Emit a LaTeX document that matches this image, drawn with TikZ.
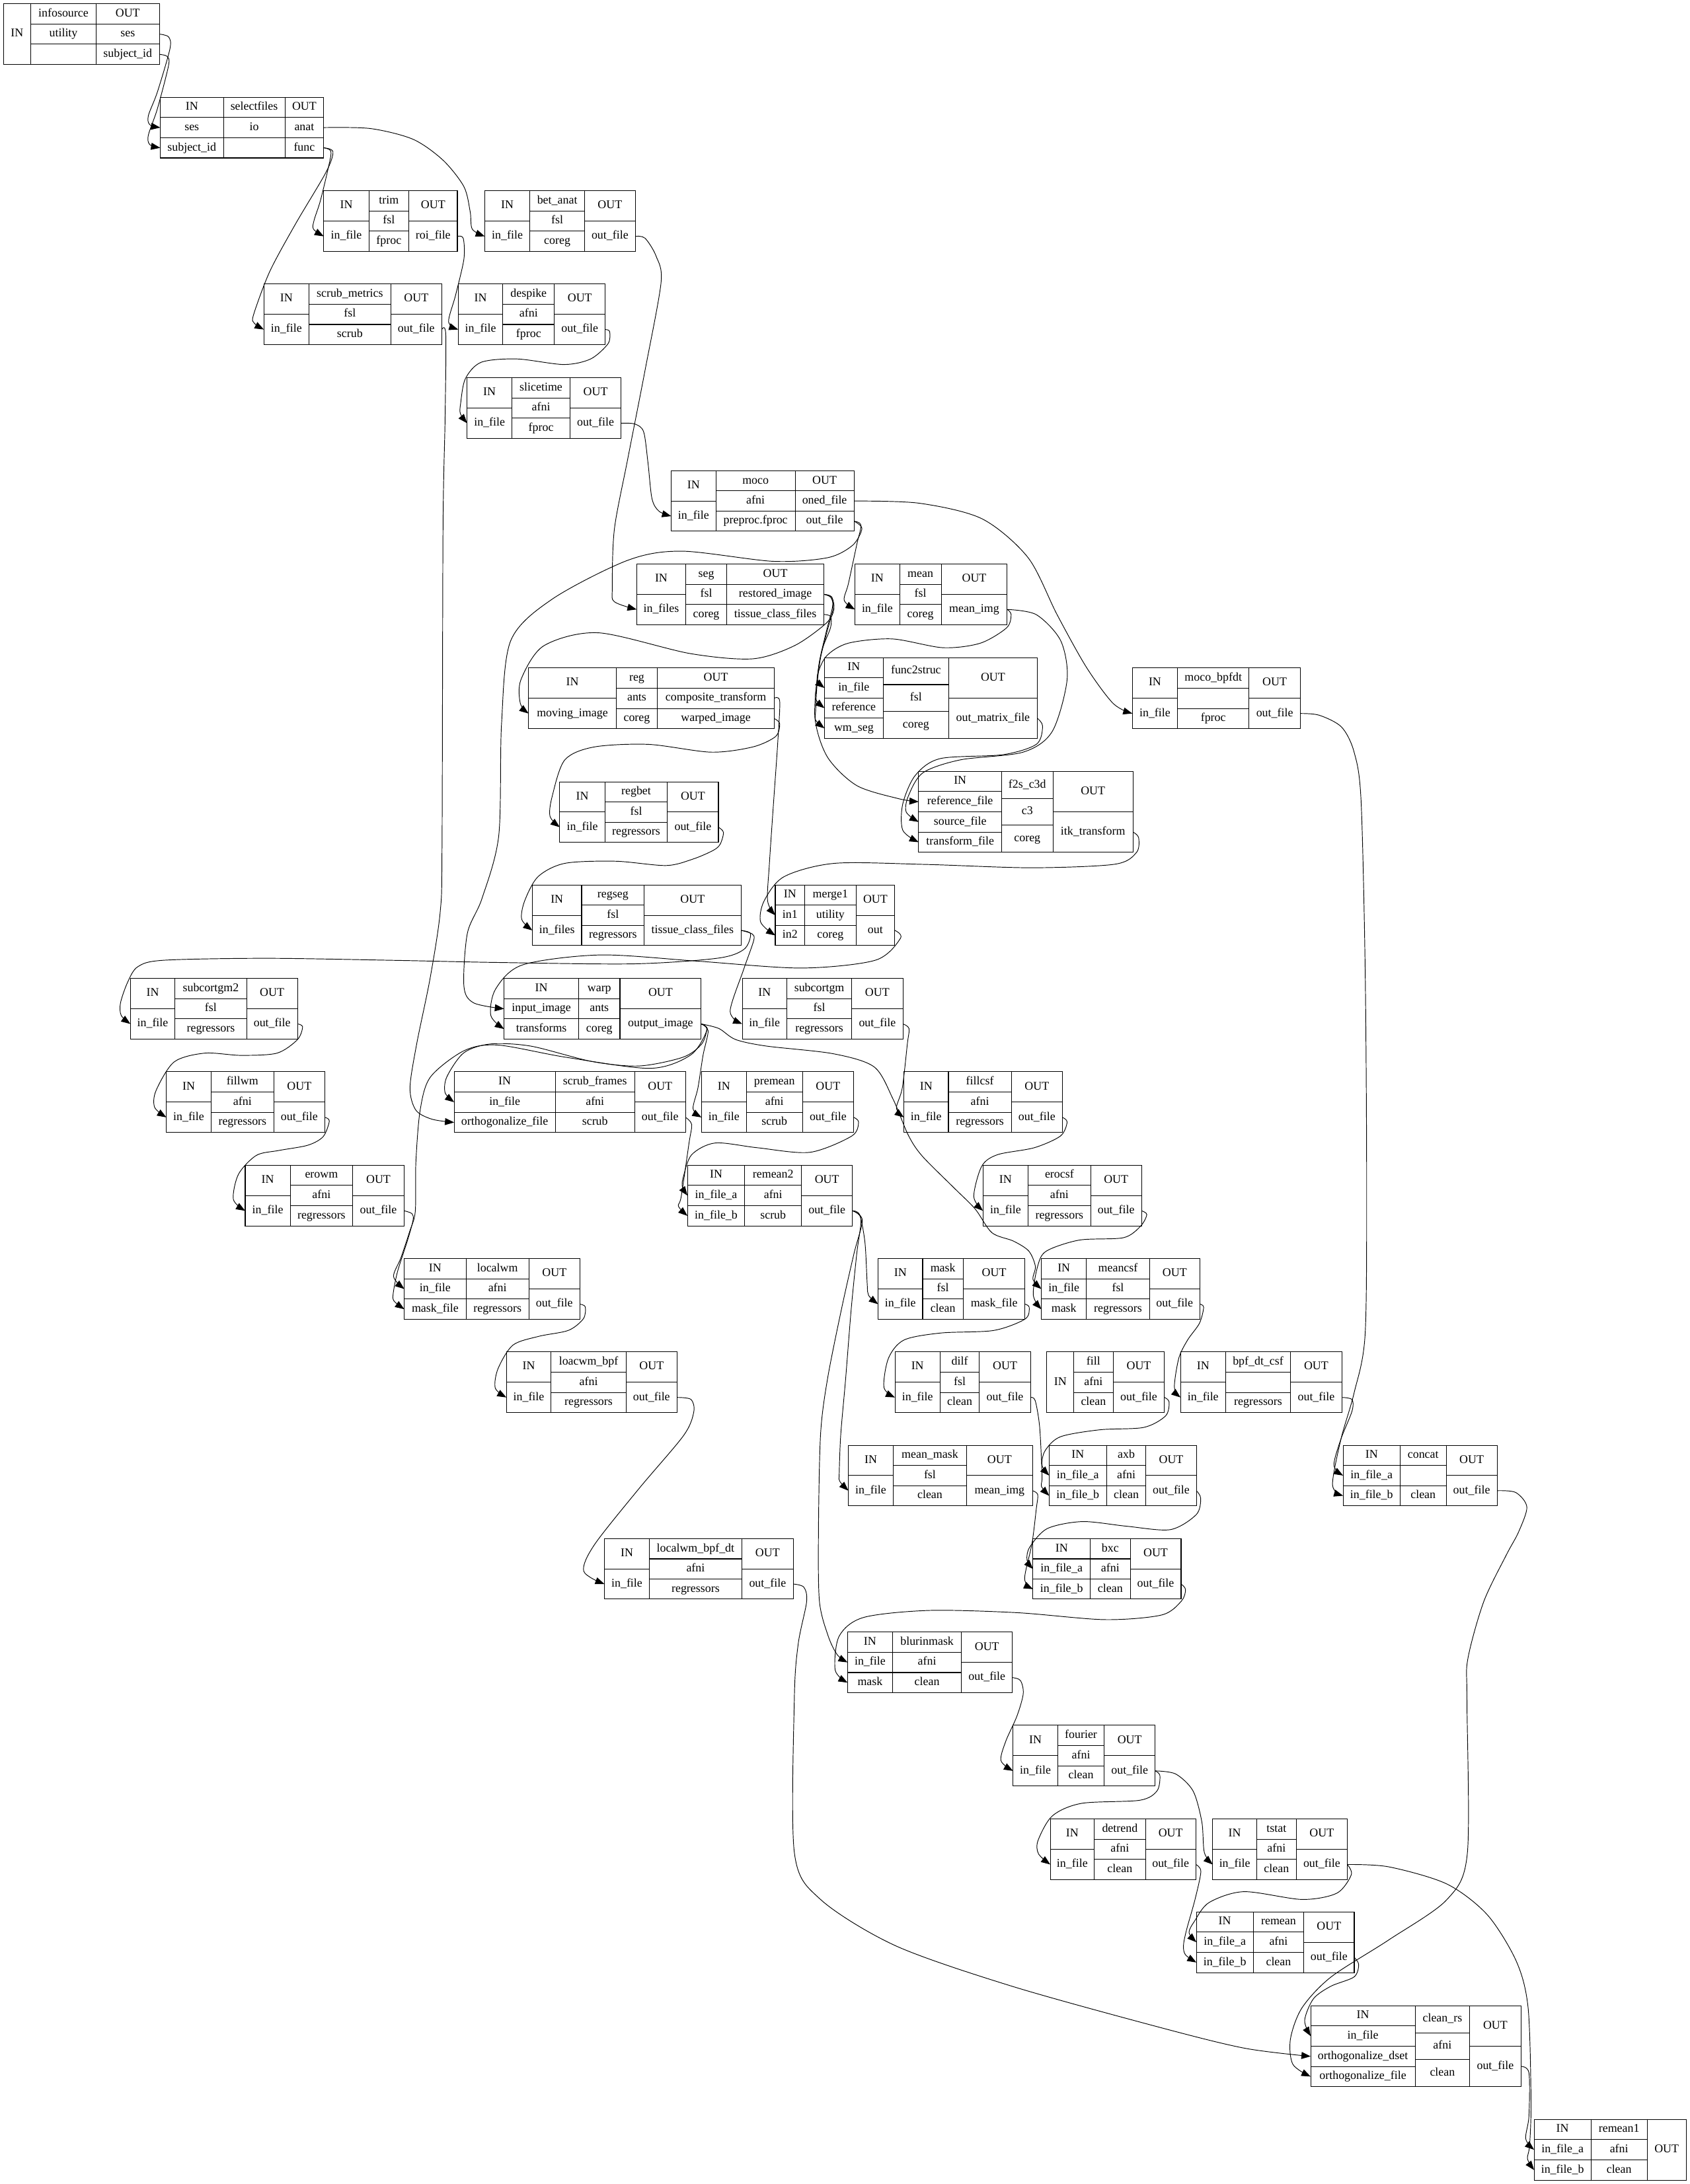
\documentclass[tikz,border=0pt]{standalone}
\usepackage{fontspec}
\setmainfont{Liberation Serif}
\usetikzlibrary{arrows.meta}
\tikzset{
  cell/.style={draw, line width=0.5pt, inner sep=0pt, outer sep=0pt,
    font=\fontsize{8.5}{10}\selectfont, text height=6.0pt, text depth=1.9pt, align=center},
  edge/.style={line width=0.45pt, -{Triangle[length=6.6pt,width=5pt]}},
}
\makeatletter
\newcommand\recnode[6]{%
  \rec@getx#2\relax
  \rec@gety#3\relax
  \def\rec@nm{#1}%
  \rec@col{#4}{\rxa}{\rxb}{0}%
  \rec@col{#5}{\rxb}{\rxc}{1}%
  \rec@col{#6}{\rxc}{\rxd}{0}%
  \pgfmathsetmacro\rec@cx{(\rxa+\rxd)/2}%
  \pgfmathsetmacro\rec@cy{(\rya+\ryb)/2}%
  \pgfmathsetmacro\rec@W{\rxd-\rxa}%
  \pgfmathsetmacro\rec@H{\ryb-\rya}%
  \node[inner sep=0pt, outer sep=0pt, minimum width=\rec@W pt, minimum height=\rec@H pt] (#1) at (\rec@cx,\rec@cy) {};%
}
\def\rec@getx#1,#2,#3,#4\relax{\def\rxa{#1}\def\rxb{#2}\def\rxc{#3}\def\rxd{#4}}
\def\rec@gety#1,#2\relax{\def\rya{#1}\def\ryb{#2}}
\def\rec@col#1#2#3#4{%
  \foreach \cellt [count=\celli] in {#1} {\xdef\rec@n{\celli}}%
  \pgfmathsetmacro\rec@h{(\ryb-\rya)/\rec@n}%
  \pgfmathsetmacro\rec@w{#3-#2}%
  \foreach \cellt [count=\celli] in {#1} {%
    \pgfmathsetmacro\rec@top{\rya+(\celli-1)*\rec@h}%
    \ifnum#4=1 \edef\rec@id{m\celli}\else \edef\rec@id{\cellt}\fi
    \node[cell, minimum width=\rec@w pt, minimum height=\rec@h pt, anchor=north west]
      (\rec@nm-\rec@id) at (#2,\rec@top) {\cellt};%
  }%
}
\makeatother
\catcode`\_=12
\begin{document}
\begin{tikzpicture}[x=1pt,y=-1pt]
\path[use as bounding box, fill=white] (0,0) rectangle (1213,1568);

\recnode{infosource}{2.4,22.1,69.0,114.4}{2.7,46.3}{IN}{infosource,utility,{}}{OUT,ses,subject_id}
\recnode{selectfiles}{115.0,160.4,204.5,232.4}{69.8,113.4}{IN,ses,subject_id}{selectfiles,io,{}}{OUT,anat,func}
\recnode{trim}{232.4,264.8,293.5,328.3}{136.9,180.6}{IN,in_file}{trim,fsl,fproc}{OUT,roi_file}
\recnode{bet_anat}{348.0,380.3,419.7,456.0}{136.9,180.6}{IN,in_file}{bet_anat,fsl,coreg}{OUT,out_file}
\recnode{scrub_metrics}{189.4,221.8,280.5,317.1}{203.8,247.5}{IN,in_file}{scrub_metrics,fsl,scrub}{OUT,out_file}
\recnode{despike}{328.9,361.0,397.9,434.5}{203.8,247.5}{IN,in_file}{despike,afni,fproc}{OUT,out_file}
\recnode{slicetime}{335.3,367.5,409.2,445.8}{271.2,314.7}{IN,in_file}{slicetime,afni,fproc}{OUT,out_file}
\recnode{moco}{481.8,513.9,570.8,613.0}{338.0,381.4}{IN,in_file}{moco,afni,preproc.fproc}{OUT,oned_file,out_file}
\recnode{seg}{457.0,492.3,521.6,591.5}{405.0,448.4}{IN,in_files}{seg,fsl,coreg}{OUT,restored_image,tissue_class_files}
\recnode{mean}{613.7,645.8,675.6,723.0}{405.0,448.4}{IN,in_file}{mean,fsl,coreg}{OUT,mean_img}
\recnode{func2struc}{591.8,634.0,681.0,744.6}{472.2,530.1}{IN,in_file,reference,wm_seg}{func2struc,fsl,coreg}{OUT,out_matrix_file}
\recnode{reg}{379.4,442.3,471.9,555.8}{479.4,523.2}{IN,moving_image}{reg,ants,coreg}{OUT,composite_transform,warped_image}
\recnode{moco_bpfdt}{812.8,845.3,896.5,933.5}{479.4,523.2}{IN,in_file}{moco_bpfdt,{},fproc}{OUT,out_file}
\recnode{f2s_c3d}{659.4,719.0,755.8,813.3}{553.8,611.9}{IN,reference_file,source_file,transform_file}{f2s_c3d,c3,coreg}{OUT,itk_transform}
\recnode{regbet}{401.8,434.2,479.1,515.7}{561.3,604.7}{IN,in_file}{regbet,fsl,regressors}{OUT,out_file}
\recnode{regseg}{382.1,417.5,462.4,531.9}{635.4,678.8}{IN,in_files}{regseg,fsl,regressors}{OUT,tissue_class_files}
\recnode{merge1}{556.5,577.7,614.4,642.3}{635.4,678.8}{IN,in1,in2}{merge1,utility,coreg}{OUT,out}
\recnode{subcortgm2}{93.6,125.6,177.0,213.6}{702.5,746.0}{IN,in_file}{subcortgm2,fsl,regressors}{OUT,out_file}
\recnode{warp}{361.8,415.4,445.0,503.3}{702.5,746.0}{IN,input_image,transforms}{warp,ants,coreg}{OUT,output_image}
\recnode{subcortgm}{532.8,564.8,611.4,648.1}{702.5,746.0}{IN,in_file}{subcortgm,fsl,regressors}{OUT,out_file}
\recnode{fillwm}{119.4,151.5,196.6,233.1}{769.5,813.1}{IN,in_file}{fillwm,afni,regressors}{OUT,out_file}
\recnode{scrub_frames}{326.0,398.6,455.6,492.1}{769.5,813.1}{IN,in_file,orthogonalize_file}{scrub_frames,afni,scrub}{OUT,out_file}
\recnode{premean}{503.5,535.8,576.0,612.8}{769.5,813.1}{IN,in_file}{premean,afni,scrub}{OUT,out_file}
\recnode{fillcsf}{648.8,680.8,726.0,762.6}{769.5,813.1}{IN,in_file}{fillcsf,afni,regressors}{OUT,out_file}
\recnode{erowm}{176.0,208.4,253.1,290.1}{836.5,880.2}{IN,in_file}{erowm,afni,regressors}{OUT,out_file}
\recnode{remean2}{493.5,534.6,575.3,611.9}{836.5,880.2}{IN,in_file_a,in_file_b}{remean2,afni,scrub}{OUT,out_file}
\recnode{erocsf}{705.6,738.0,782.9,819.4}{836.5,880.2}{IN,in_file}{erocsf,afni,regressors}{OUT,out_file}
\recnode{localwm}{290.2,334.5,379.7,416.2}{903.6,947.2}{IN,in_file,mask_file}{localwm,afni,regressors}{OUT,out_file}
\recnode{mask}{630.3,662.3,691.4,735.8}{903.6,947.2}{IN,in_file}{mask,fsl,clean}{OUT,mask_file}
\recnode{meancsf}{747.5,779.9,825.1,861.3}{903.6,947.2}{IN,in_file,mask}{meancsf,fsl,regressors}{OUT,out_file}
\recnode{loacwm_bpf}{363.5,395.6,449.4,486.0}{970.5,1014.2}{IN,in_file}{loacwm_bpf,afni,regressors}{OUT,out_file}
\recnode{dilf}{642.4,674.8,703.0,739.8}{970.5,1014.2}{IN,in_file}{dilf,fsl,clean}{OUT,out_file}
\recnode{fill}{751.4,770.8,799.0,835.9}{970.5,1014.2}{IN}{fill,afni,clean}{OUT,out_file}
\recnode{bpf_dt_csf}{847.4,879.8,926.4,963.2}{970.5,1014.2}{IN,in_file}{bpf_dt_csf,{},regressors}{OUT,out_file}
\recnode{mean_mask}{609.0,641.1,693.9,741.1}{1037.6,1081.1}{IN,in_file}{mean_mask,fsl,clean}{OUT,mean_img}
\recnode{axb}{753.1,794.3,822.6,858.8}{1037.6,1081.1}{IN,in_file_a,in_file_b}{axb,afni,clean}{OUT,out_file}
\recnode{concat}{964.1,1005.0,1038.1,1074.6}{1037.6,1081.1}{IN,in_file_a,in_file_b}{concat,{},clean}{OUT,out_file}
\recnode{bxc}{741.5,782.6,811.3,847.8}{1104.7,1148.1}{IN,in_file_a,in_file_b}{bxc,afni,clean}{OUT,out_file}
\recnode{localwm_bpf_dt}{433.9,466.1,532.5,569.5}{1104.7,1148.1}{IN,in_file}{localwm_bpf_dt,afni,regressors}{OUT,out_file}
\recnode{blurinmask}{608.4,640.7,690.2,726.7}{1171.7,1215.3}{IN,in_file,mask}{blurinmask,afni,clean}{OUT,out_file}
\recnode{fourier}{727.2,759.3,792.6,829.2}{1238.7,1282.3}{IN,in_file}{fourier,afni,clean}{OUT,out_file}
\recnode{detrend}{753.9,785.5,822.2,858.4}{1305.9,1349.5}{IN,in_file}{detrend,afni,clean}{OUT,out_file}
\recnode{tstat}{870.5,902.1,930.5,967.1}{1305.9,1349.5}{IN,in_file}{tstat,afni,clean}{OUT,out_file}
\recnode{remean}{858.8,899.6,935.9,972.1}{1372.6,1416.2}{IN,in_file_a,in_file_b}{remean,afni,clean}{OUT,out_file}
\recnode{clean_rs}{940.8,1015.8,1055.0,1091.7}{1440.0,1498.1}{IN,in_file,orthogonalize_dset,orthogonalize_file}{clean_rs,afni,clean}{OUT,out_file}
\recnode{remean1}{1101.2,1142.0,1182.4,1210.3}{1521.6,1565.2}{IN,in_file_a,in_file_b}{remean1,afni,clean}{OUT}

% edges
\draw[edge] plot[smooth] coordinates {(infosource-ses.east) (121,26.5) (122,35) (113,66) (106.5,83) (107.5,89.5) (selectfiles-ses.west)};
\draw[edge] plot[smooth] coordinates {(infosource-subject_id.east) (120,40.5) (121,47) (113,78) (106.5,97) (107.5,103.8) (selectfiles-subject_id.west)};
\draw[edge] plot[smooth] coordinates {(selectfiles-anat.east) (266,92.3) (296.5,100) (318,115) (333,134) (337.5,152) (339,164.5) (bet_anat-in_file.west)};
\draw[edge] plot[smooth] coordinates {(selectfiles-func.east) (237.5,108.5) (236,119) (230,144) (225.5,158) (225,164.5) (trim-in_file.west)};
\draw[edge] plot[smooth] coordinates {(selectfiles-func.east) (239,109) (234,123.7) (212,161) (193.6,195) (182,226) (182.5,232) (scrub_metrics-in_file.west)};
\draw[edge] plot[smooth] coordinates {(trim-roi_file.east) (332.5,171) (333,186) (327,212) (322,231) (despike-in_file.west)};
\draw[edge] plot[smooth] coordinates {(bet_anat-out_file.east) (463,171) (471,184) (474.5,203) (463,266) (450.5,330) (441,380) (439.5,422) (441,432) (seg-in_files.west)};
\draw[edge] plot[smooth] coordinates {(despike-out_file.east) (437.6,238) (436.5,246.7) (424,257.7) (404.7,261.7) (371,257.7) (345.4,260.1) (334,272) (330.6,290) (330.5,297) (slicetime-in_file.west)};
\draw[edge] plot[smooth] coordinates {(slicetime-out_file.east) (455.6,304.4) (462,310) (465.1,332) (468,358) (473,367) (moco-in_file.west)};
\draw[edge] plot[smooth] coordinates {(scrub_metrics-out_file.east) (320,240.4) (319.5,300) (318,380) (317.3,607) (316,654.6) (308.8,702) (299.1,749.5) (294.3,781) (298.5,797) (310,803.5) (scrub_frames-orthogonalize_file.west)};
\draw[edge] plot[smooth] coordinates {(moco-oned_file.east) (660,361.3) (705,372.5) (738,400.4) (758.8,441.3) (779.8,479) (799,505) (moco_bpfdt-in_file.west)};
\draw[edge] plot[smooth] coordinates {(moco-out_file.east) (618,377) (615,391) (609,419) (606,431) (mean-in_file.west)};
\draw[edge] plot[smooth] coordinates {(moco-out_file.east) (618.7,379.5) (612,391.5) (594,400.4) (555,403) (489.4,395.7) (450.5,402.3) (396.6,430) (366.6,460) (360,520) (358,600) (346,645) (335.5,670) (333,708) (340,720) (warp-input_image.west)};
\draw[edge] plot[smooth] coordinates {(seg-restored_image.east) (597,428.5) (598.6,437.6) (593,447.5) (570.2,463.6) (540.2,473) (495.3,469.2) (429.4,454.3) (390.4,463.6) (374,487.8) (373.5,505) (reg-moving_image.west)};
\draw[edge] plot[smooth] coordinates {(seg-restored_image.east) (596.2,428.5) (597.7,435) (593,454) (588.3,474.4) (586,493.4) (585.5,502) (func2struc-reference.west)};
\draw[edge] plot[smooth] coordinates {(seg-tissue_class_files.east) (596.2,442.6) (596.2,450.5) (590,467) (586.7,489.3) (585.5,510) (585.5,517) (func2struc-wm_seg.west)};
\draw[edge] plot[smooth] coordinates {(seg-restored_image.east) (596.5,429) (598,437) (593,456) (587.5,480) (585,515.7) (594,543.6) (615,564) (645,573.4) (f2s_c3d-reference_file.west)};
\draw[edge] plot[smooth] coordinates {(mean-mean_img.east) (725.8,441.2) (722.6,450.7) (703.6,461.8) (676.8,465) (640.4,458.7) (608.8,461.8) (593,471.3) (586.5,486.5) (func2struc-in_file.west)};
\draw[edge] plot[smooth] coordinates {(mean-mean_img.east) (743.9,441.3) (761.4,460) (766,487.8) (755.4,525) (734.4,540) (689.5,545.5) (662.5,554.8) (652,571.6) (650.5,583) (f2s_c3d-source_file.west)};
\draw[edge] plot[smooth] coordinates {(func2struc-out_matrix_file.east) (748.4,521.3) (744,534.3) (720,541.8) (675,544.6) (657,556.7) (648,577.2) (648,596) (f2s_c3d-transform_file.west)};
\draw[edge] plot[smooth] coordinates {(reg-composite_transform.east) (559.7,503.6) (558.2,534.3) (555,580) (552.2,621.4) (551,646.8) (merge1-in1.west)};
\draw[edge] plot[smooth] coordinates {(f2s_c3d-itk_transform.east) (817.3,601.3) (815.8,612) (800,620.5) (740,623) (664,620.6) (599.3,619.8) (563,629.3) (548.5,646.8) (546,662) (merge1-in2.west)};
\draw[edge] plot[smooth] coordinates {(reg-warped_image.east) (559.7,519.5) (556.7,528.8) (540.2,536.3) (510.3,540) (465.4,534.4) (426.4,536.3) (405.4,545.6) (396.4,571.6) (394.8,586) (regbet-in_file.west)};
\draw[edge] plot[smooth] coordinates {(regbet-out_file.east) (519.3,597.6) (517,606) (512,610.5) (497.6,616.7) (478.2,621.4) (441.9,618.3) (405.6,619.8) (386.3,629.3) (376.6,646.8) (374.5,660) (regseg-in_files.west)};
\draw[edge] plot[smooth] coordinates {(merge1-out.east) (646.4,673.6) (628.3,689.4) (575,695) (500,690) (430.8,685.6) (375.2,692.7) (355.8,710) (352.3,729) (warp-transforms.west)};
\draw[edge] plot[smooth] coordinates {(regseg-tissue_class_files.east) (538.8,670.5) (534,681.6) (514.6,688) (454,692) (357.3,691) (284.6,689.5) (191.4,688) (117.6,689.4) (99,694) (91.7,705) (86.5,720) (87,729) (subcortgm2-in_file.west)};
\draw[edge] plot[smooth] coordinates {(regseg-tissue_class_files.east) (539.9,670.5) (541,675.3) (533.8,696) (524.1,726) (subcortgm-in_file.west)};
\draw[edge] plot[smooth] coordinates {(warp-output_image.east) (507.3,738.4) (503.7,749.5) (490.3,759) (458.8,765.3) (424.9,762.1) (381.3,751.1) (352.2,749.5) (333,755.8) (320.8,773) (319.5,784.5) (scrub_frames-in_file.west)};
\draw[edge] plot[smooth] coordinates {(warp-output_image.east) (507.5,739.5) (495.8,757.4) (466.6,767) (405.9,759) (357.5,750.3) (333.2,754.3) (309,773.2) (301.6,797) (298.5,834.9) (298.1,869.7) (294.1,884) (287.8,903) (282.5,916.5) (localwm-in_file.west)};
\draw[edge] plot[smooth] coordinates {(erowm-out_file.east) (295.7,871.3) (296.5,876) (292.6,890.3) (285.5,912.4) (282.3,928.2) (282.8,934) (localwm-mask_file.west)};
\draw[edge] plot[smooth] coordinates {(warp-output_image.east) (508.3,740) (504.7,757.4) (501,781) (497.5,796) (premean-in_file.west)};
\draw[edge] plot[smooth] coordinates {(warp-output_image.east) (516,738.4) (528,746.3) (550,751) (598,756.5) (627.5,766) (641,789) (652,815) (662,830) (685,853) (700,868) (712,885) (727.4,891) (738.5,898.2) (743.2,909.2) (741.5,918.5) (meancsf-in_file.west)};
\draw[edge] plot[smooth] coordinates {(erocsf-out_file.east) (823.2,872) (818.7,880.3) (806.4,888.6) (774.8,890.3) (751.1,898.2) (744.8,909.2) (741.7,929.8) (meancsf-mask.west)};
\draw[edge] plot[smooth] coordinates {(subcortgm2-out_file.east) (217.2,737.2) (213.5,746.4) (198.8,756.1) (173,757.7) (147,756.1) (125,762.4) (112,783) (111,795) (fillwm-in_file.west)};
\draw[edge] plot[smooth] coordinates {(fillwm-out_file.east) (236.4,804.8) (232,816) (221,822.2) (200,826) (184,829.5) (171.2,843) (167.5,861) (erowm-in_file.west)};
\draw[edge] plot[smooth] coordinates {(subcortgm-out_file.east) (652.5,738.4) (651.3,749.5) (647.7,781) (643.5,795.5) (fillcsf-in_file.west)};
\draw[edge] plot[smooth] coordinates {(fillcsf-out_file.east) (766,805.6) (761.2,815.6) (742.4,824) (716,829) (704.7,837.3) (699,859) (erocsf-in_file.west)};
\draw[edge] plot[smooth] coordinates {(scrub_frames-out_file.east) (496.5,807.3) (494.6,820.6) (489,859) (487,866) (remean2-in_file_b.west)};
\draw[edge] plot[smooth] coordinates {(premean-out_file.east) (616.3,805.6) (611.4,815.6) (581.3,827.3) (543.6,824) (513.4,820.6) (496.5,829) (490.5,845) (489.8,852) (remean2-in_file_a.west)};
\draw[edge] plot[smooth] coordinates {(remean2-out_file.east) (617.1,872.2) (620.9,892.2) (622.5,922) (623.5,930) (mask-in_file.west)};
\draw[edge] plot[smooth] coordinates {(remean2-out_file.east) (618,875) (615,900) (611,940) (607,990) (603.5,1030) (602.4,1058) (602.8,1063.5) (mean_mask-in_file.west)};
\draw[edge] plot[smooth] coordinates {(remean2-out_file.east) (619,876) (613,900) (604,940) (594,990) (589,1030) (587.5,1100) (588.2,1149.6) (594.5,1174.6) (601,1188) (blurinmask-in_file.west)};
\draw[edge] plot[smooth] coordinates {(mask-mask_file.east) (738.8,938.6) (735.8,947) (713.2,955.2) (675.5,957) (649,962) (637.8,975) (634.5,996) (dilf-in_file.west)};
\draw[edge] plot[smooth] coordinates {(meancsf-out_file.east) (864,938.6) (861,950) (852.5,962) (846.2,975) (843,996) (bpf_dt_csf-in_file.west)};
\draw[edge] plot[smooth] coordinates {(localwm-out_file.east) (420.1,938.2) (418.8,946.7) (408.1,955.1) (386.8,959.4) (368.2,965.7) (357.5,982.6) (355.5,996.5) (loacwm_bpf-in_file.west)};
\draw[edge] plot[smooth] coordinates {(loacwm_bpf-out_file.east) (496,1004.7) (498,1013.7) (490.7,1030.6) (458.7,1068.7) (426.7,1109) (419,1128) (localwm_bpf_dt-in_file.west)};
\draw[edge] plot[smooth] coordinates {(dilf-out_file.east) (743.1,1005.6) (746.3,1024.8) (748,1060) (747.5,1067) (axb-in_file_b.west)};
\draw[edge] plot[smooth] coordinates {(fill-out_file.east) (839.2,1006.5) (836.7,1016.5) (821,1024.8) (789.5,1026.5) (761.2,1031.5) (750.2,1041.5) (748,1052) (axb-in_file_a.west)};
\draw[edge] plot[smooth] coordinates {(bpf_dt_csf-out_file.east) (970.5,1004.8) (970.5,1013.1) (962.6,1033) (957.5,1052) (concat-in_file_a.west)};
\draw[edge] plot[smooth] coordinates {(moco_bpfdt-out_file.east) (947,513.5) (963,522) (972,540) (977,575) (980,700) (981,850) (979.9,958) (972,1000) (962.6,1033) (956.5,1066) (concat-in_file_b.west)};
\draw[edge] plot[smooth] coordinates {(axb-out_file.east) (861.9,1075.7) (858.7,1087.4) (840,1098.2) (808.4,1095.7) (777,1092.4) (751.8,1097.4) (739.2,1110.7) (737.2,1120) (bxc-in_file_a.west)};
\draw[edge] plot[smooth] coordinates {(mean_mask-mean_img.east) (744.9,1073) (743.9,1083) (740.8,1108) (735.5,1133.5) (bxc-in_file_b.west)};
\draw[edge] plot[smooth] coordinates {(bxc-out_file.east) (851,1141.2) (848,1149.5) (833.7,1159.5) (792.8,1162.8) (730,1157.8) (667,1156.2) (620,1161.2) (602.4,1174.6) (599.5,1199) (blurinmask-mask.west)};
\draw[edge] plot[smooth] coordinates {(blurinmask-out_file.east) (732.5,1206.5) (734.5,1216) (730,1232) (722,1250) (718.5,1264) (fourier-in_file.west)};
\draw[edge] plot[smooth] coordinates {(fourier-out_file.east) (832.6,1274.7) (830.5,1285.8) (818,1292.5) (776.4,1294.7) (755.5,1303.6) (745.1,1321.4) (745.5,1331) (detrend-in_file.west)};
\draw[edge] plot[smooth] coordinates {(fourier-out_file.east) (843.9,1273.6) (856.4,1285.8) (862.7,1308) (864.5,1330) (tstat-in_file.west)};
\draw[edge] plot[smooth] coordinates {(tstat-out_file.east) (970,1345.9) (959.6,1359.2) (934.6,1363.7) (892.9,1358.1) (867.9,1365.9) (857.5,1379.2) (853.5,1387.5) (remean-in_file_a.west)};
\draw[edge] plot[smooth] coordinates {(detrend-out_file.east) (862,1343.7) (857.8,1363.7) (851.6,1386) (849.5,1397) (851,1403.5) (remean-in_file_b.west)};
\draw[edge] plot[smooth] coordinates {(tstat-out_file.east) (997,1340.3) (1038.6,1352.6) (1067.7,1374.8) (1088.5,1408.2) (1096.9,1441.5) (1099,1508) (1098,1540) (1096.5,1550) (remean1-in_file_b.west)};
\draw[edge] plot[smooth] coordinates {(clean_rs-out_file.east) (1097.5,1488.2) (1097.5,1519.3) (1095.2,1535.5) (remean1-in_file_a.west)};
\draw[edge] plot[smooth] coordinates {(remean-out_file.east) (975.3,1410.4) (972,1419.3) (955.3,1426) (942.8,1435) (936.5,1450.5) (clean_rs-in_file.west)};
\draw[edge] plot[smooth] coordinates {(concat-out_file.east) (1088,1071.5) (1096,1082) (1090,1100) (1081.3,1116.3) (1065,1150) (1053.6,1191.2) (1053,1220) (1053.3,1330.4) (1038.7,1363.7) (997.1,1392.6) (955.5,1419.3) (934.6,1441.5) (926.3,1463.8) (928,1482) (clean_rs-orthogonalize_file.west)};
\draw[edge] plot[smooth] coordinates {(localwm_bpf_dt-out_file.east) (577,1139.5) (579,1150) (573,1180) (570.2,1219) (570.2,1330) (589,1363.7) (643,1397) (726.4,1426) (830.5,1455) (892.9,1470.4) (clean_rs-orthogonalize_dset.west)};
\end{tikzpicture}
\end{document}
